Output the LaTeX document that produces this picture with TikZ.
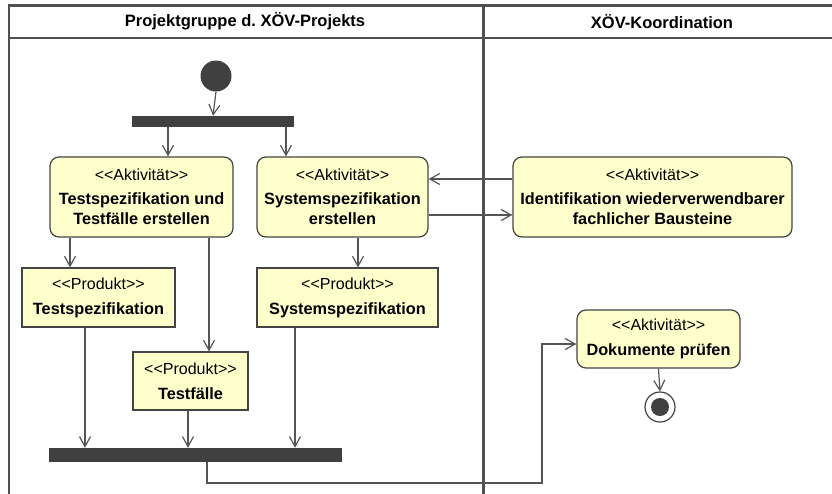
\documentclass[tikz,border=0pt]{standalone}
\usepackage{fontspec}
\setmainfont{Liberation Sans}
\usetikzlibrary{arrows.meta}
\definecolor{yellowc}{HTML}{FFFFCC}
\definecolor{boxc}{HTML}{444444}
\definecolor{linec}{HTML}{555555}
\definecolor{framec}{HTML}{505050}
\definecolor{barc}{HTML}{404040}
\newcommand\stereo[1]{<\kern0pt<#1>\kern0pt>}
\newcommand\bt{\fontsize{16.3}{20}\selectfont\bfseries}
\begin{document}
\begin{tikzpicture}[x=1pt,y=-1pt,
  font=\fontsize{16}{20}\selectfont,
  act/.style={draw=boxc, fill=yellowc, rounded corners=9pt, line width=1.2pt, align=center, inner sep=0pt},
  prod/.style={draw=boxc, fill=yellowc, line width=1.2pt, align=center, inner sep=0pt},
  bar/.style={fill=barc, draw=none, inner sep=0pt},
  arr/.style={draw=linec, line width=1.2pt, -{Straight Barb[length=10pt,width=11pt]}},
  frame/.style={draw=framec, line width=2.6pt},
  head/.style={font=\fontsize{16.5}{20}\selectfont\bfseries, inner sep=0pt}
]
\useasboundingbox (0,0) rectangle (832,493);
\clip (0,0) rectangle (832,493);
\fill[white] (0,0) rectangle (832,493);

% swimlane frame
\draw[frame] (9,5.5) -- (850,5.5);
\draw[frame] (9,38) -- (850,38);
\draw[frame] (9,4.2) -- (9,500);
\draw[frame] (483.5,4.2) -- (483.5,500);
\node[head] (h1) at (245,21.5) {Projektgruppe d.\ XÖV-Projekts};
\node[head] (h2) at (662,21.5) {XÖV-Koordination};

% start / bars / end
\node[circle, fill=barc, minimum size=31pt, inner sep=0pt] (start) at (216,76) {};
\node[bar, minimum width=162pt, minimum height=11pt] (fork) at (213,121.5) {};
\node[bar, minimum width=293pt, minimum height=14pt] (join) at (195.5,455) {};
\node[circle, draw=boxc, fill=white, line width=1.2pt, minimum size=30pt, inner sep=0pt] (end) at (660,407) {};
\node[circle, fill=barc, minimum size=18pt, inner sep=0pt] (endin) at (660,407) {};

% activities
\node[act, minimum width=183pt, minimum height=80pt] (a1) at (141.5,197)
  {\stereo{Aktivität}\\[4pt]\bt Testspezifikation und\\\bt Testfälle erstellen};
\node[act, minimum width=171pt, minimum height=80pt] (a2) at (342.5,197)
  {\stereo{Aktivität}\\[4pt]\bt Systemspezifikation\\\bt erstellen};
\node[act, minimum width=279pt, minimum height=80pt] (a3) at (652.5,197)
  {\stereo{Aktivität}\\[4pt]\bt Identifikation wiederverwendbarer\\\bt fachlicher Bausteine};
\node[act, minimum width=163pt, minimum height=58pt] (a4) at (658.5,339)
  {\stereo{Aktivität}\\[5pt]\bt Dokumente prüfen};

% products
\node[prod, minimum width=153pt, minimum height=59pt] (p1) at (98.5,297.5)
  {\stereo{Produkt}\\[5pt]\bt Testspezifikation};
\node[prod, minimum width=181pt, minimum height=59pt] (p2) at (347.5,297.5)
  {\stereo{Produkt}\\[5pt]\bt Systemspezifikation};
\node[prod, minimum width=115pt, minimum height=58pt] (p3) at (190.5,381)
  {\stereo{Produkt}\\[5pt]\bt Testfälle};

% helper coordinates
\coordinate (x168) at (168,0);
\coordinate (x286) at (286,0);
\coordinate (x70) at (70,0);
\coordinate (x209) at (209,0);
\coordinate (x358) at (358,0);
\coordinate (x85) at (85,0);
\coordinate (x188) at (188,0);
\coordinate (x295) at (295,0);
\coordinate (y179) at (0,179);
\coordinate (y215) at (0,215);
\coordinate (y344) at (0,344);
\coordinate (bend1) at (207,483);
\coordinate (bend2) at (542,483);
\coordinate (bend3) at (542,344);

% connectors
\draw[arr] (start.south) -- (fork.north);
\draw[arr] (fork.south -| x168) -- (a1.north -| x168);
\draw[arr] (fork.south -| x286) -- (a2.north -| x286);
\draw[arr] (a3.west |- y179) -- (a2.east |- y179);
\draw[arr] (a2.east |- y215) -- (a3.west |- y215);
\draw[arr] (a1.south -| x70) -- (p1.north -| x70);
\draw[arr] (a1.south -| x209) -- (p3.north -| x209);
\draw[arr] (a2.south -| x358) -- (p2.north -| x358);
\draw[arr] (p1.south -| x85) -- (join.north -| x85);
\draw[arr] (p3.south -| x188) -- (join.north -| x188);
\draw[arr] (p2.south -| x295) -- (join.north -| x295);
\draw[arr] (join.south -| bend1) -- (bend1) -- (bend2) -- (bend3) -- (a4.west |- y344);
\draw[arr] (a4.south) -- (end.north);
\end{tikzpicture}
\end{document}
